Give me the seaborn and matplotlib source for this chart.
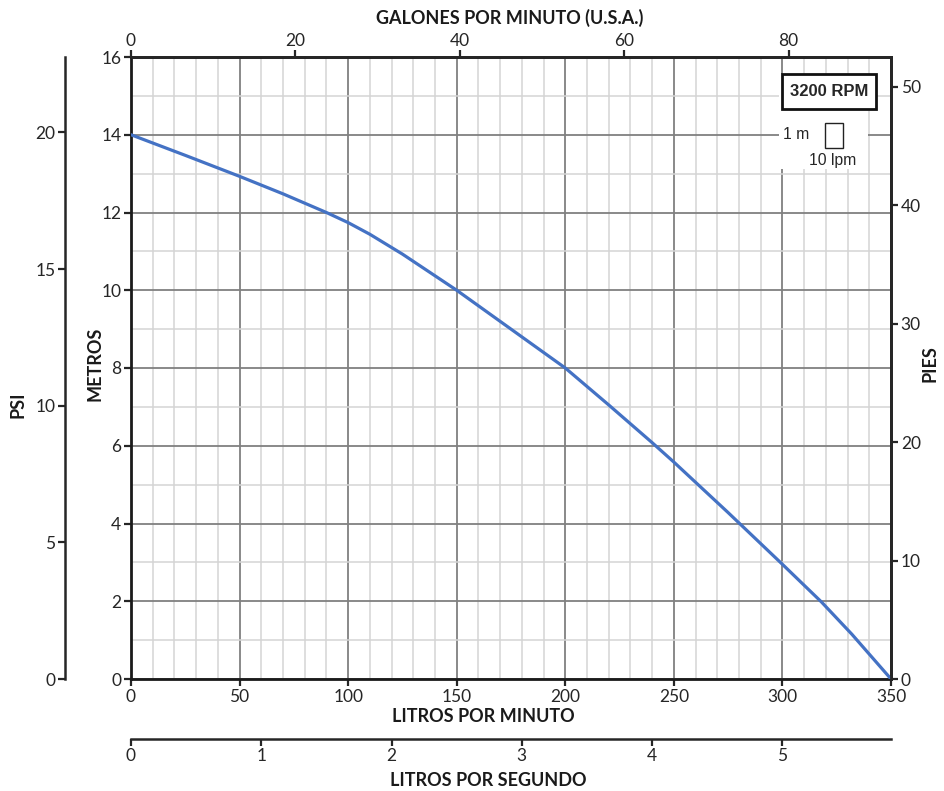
import seaborn as sns
import matplotlib.pyplot as plt
import matplotlib.patches as mpatches
from matplotlib.ticker import MultipleLocator

# pump curve (litros por minuto -> metros)
lpm = [0, 25, 50, 70, 90, 100, 110, 125, 150, 175, 200, 220, 240, 250, 275, 300, 318, 332, 350]
metros = [14.0, 13.47, 12.93, 12.48, 12.0, 11.74, 11.44, 10.93, 10.0, 9.0, 8.0, 7.05, 6.08, 5.58,
          4.28, 2.95, 1.98, 1.15, 0.0]

lpm_ticks = [0, 50, 100, 150, 200, 250, 300, 350]
m_ticks = [0, 2, 4, 6, 8, 10, 12, 14, 16]
psi_ticks = [0, 5, 10, 15, 20]
pies_ticks = [0, 10, 20, 30, 40, 50]
gpm_ticks = [0, 20, 40, 60, 80]
lps_ticks = [0, 1, 2, 3, 4, 5]

rpm_label = "3200 RPM"

W, H = 944, 791
L, R, T, B = 131, 891, 57, 679

sns.set_style("white")
plt.rcParams['font.family'] = ['Lato', 'DejaVu Sans']
plt.rcParams['axes.linewidth'] = 2.0
plt.rcParams['xtick.major.width'] = 1.6
plt.rcParams['ytick.major.width'] = 1.6
plt.rcParams['xtick.major.size'] = 5
plt.rcParams['ytick.major.size'] = 5
plt.rcParams['xtick.direction'] = 'out'
plt.rcParams['ytick.direction'] = 'out'

tick_color = '#262626'
fs = 12.5

fig = plt.figure(figsize=(W / 100, H / 100), dpi=100)
ax = fig.add_axes([L / W, 1 - B / H, (R - L) / W, (B - T) / H])

sns.lineplot(x=lpm, y=metros, ax=ax, color='#4472C4', linewidth=2.3, zorder=3)
ax.set_xlim(0, 350)
ax.set_ylim(0, 16)
ax.set_xticks(lpm_ticks)
ax.set_yticks(m_ticks)
ax.xaxis.set_minor_locator(MultipleLocator(10))
ax.yaxis.set_minor_locator(MultipleLocator(1))
ax.set_axisbelow(True)
ax.grid(which='major', color='#808080', linewidth=1.3)
ax.grid(which='minor', color='#d4d4d4', linewidth=1.1)
ax.tick_params(which='minor', length=0)
ax.tick_params(which='major', labelsize=fs, colors=tick_color, pad=2)
ax.set_xlabel('')
ax.set_ylabel('')
for s in ax.spines.values():
    s.set_color('#1a1a1a')

# legend area: rpm box and grid scale key
ax.add_patch(mpatches.Rectangle((298.5, 13.12), 41, 2.43, facecolor='white',
                                edgecolor='none', zorder=1.5))
ax.add_patch(mpatches.Rectangle((299.7, 14.65), 43.5, 0.9, facecolor='white',
                                edgecolor='#111111', linewidth=2.0, zorder=4))
ax.text(321.5, 15.1, rpm_label, ha='center', va='center', fontsize=12,
        fontweight='bold', family='Liberation Sans', zorder=5)
ax.text(306.5, 14.0, "1 m", ha='center', va='center', fontsize=11.3,
        family='Liberation Sans', zorder=4)
ax.add_patch(mpatches.Rectangle((319.4, 13.67), 8.5, 0.64, facecolor='white',
                                edgecolor='#222222', linewidth=1.0, zorder=4))
ax.text(323.2, 13.34, "10 lpm", ha='center', va='center', fontsize=11.3,
        family='Liberation Sans', zorder=4)

# PSI axis (outer left)
ax_psi = ax.twinx()
ax_psi.set_ylim(0, 16 / 0.70307)
ax_psi.set_yticks(psi_ticks)
ax_psi.yaxis.set_ticks_position('left')
ax_psi.spines['left'].set_position(('outward', (L - 65) * 0.72))
for k in ['right', 'top', 'bottom']:
    ax_psi.spines[k].set_visible(False)
ax_psi.spines['left'].set_linewidth(1.8)
ax_psi.tick_params(labelsize=fs, colors=tick_color, pad=2)
ax_psi.grid(False)

# PIES axis (right)
ax_ft = ax.twinx()
ax_ft.set_ylim(0, 16 * 3.28084)
ax_ft.set_yticks(pies_ticks)
for k in ['left', 'top', 'bottom']:
    ax_ft.spines[k].set_visible(False)
ax_ft.tick_params(labelsize=fs, colors=tick_color, pad=2)
ax_ft.grid(False)

# GPM axis (top)
ax_gpm = ax.twiny()
ax_gpm.set_xlim(0, 350 / 3.78541)
ax_gpm.set_xticks(gpm_ticks)
for k in ['left', 'right', 'bottom']:
    ax_gpm.spines[k].set_visible(False)
ax_gpm.tick_params(labelsize=fs, colors=tick_color, pad=1)
ax_gpm.grid(False)

# LPS axis (lower)
ax_lps = ax.twiny()
ax_lps.set_xlim(0, 350 / 60)
ax_lps.set_xticks(lps_ticks)
ax_lps.xaxis.set_ticks_position('bottom')
ax_lps.xaxis.set_label_position('bottom')
ax_lps.spines['bottom'].set_position(('outward', (738.5 - B) * 0.72))
for k in ['left', 'right', 'top']:
    ax_lps.spines[k].set_visible(False)
ax_lps.spines['bottom'].set_linewidth(1.8)
ax_lps.tick_params(labelsize=fs, colors=tick_color, pad=2)
ax_lps.grid(False)


def ftext(x, y, s, rot=0):
    fig.text(x / W, 1 - y / H, s, ha='center', va='center', rotation=rot,
             fontsize=13, fontweight='bold', color='#1a1a1a')


ftext(510, 18, "GALONES POR MINUTO (U.S.A.)")
ftext(483, 717, "LITROS POR MINUTO")
ftext(488, 780, "LITROS POR SEGUNDO")
ftext(18, 405, "PSI", 90)
ftext(95, 364, "METROS", 90)
ftext(930, 364, "PIES", 90)

fig.savefig('out.png', dpi=100)
